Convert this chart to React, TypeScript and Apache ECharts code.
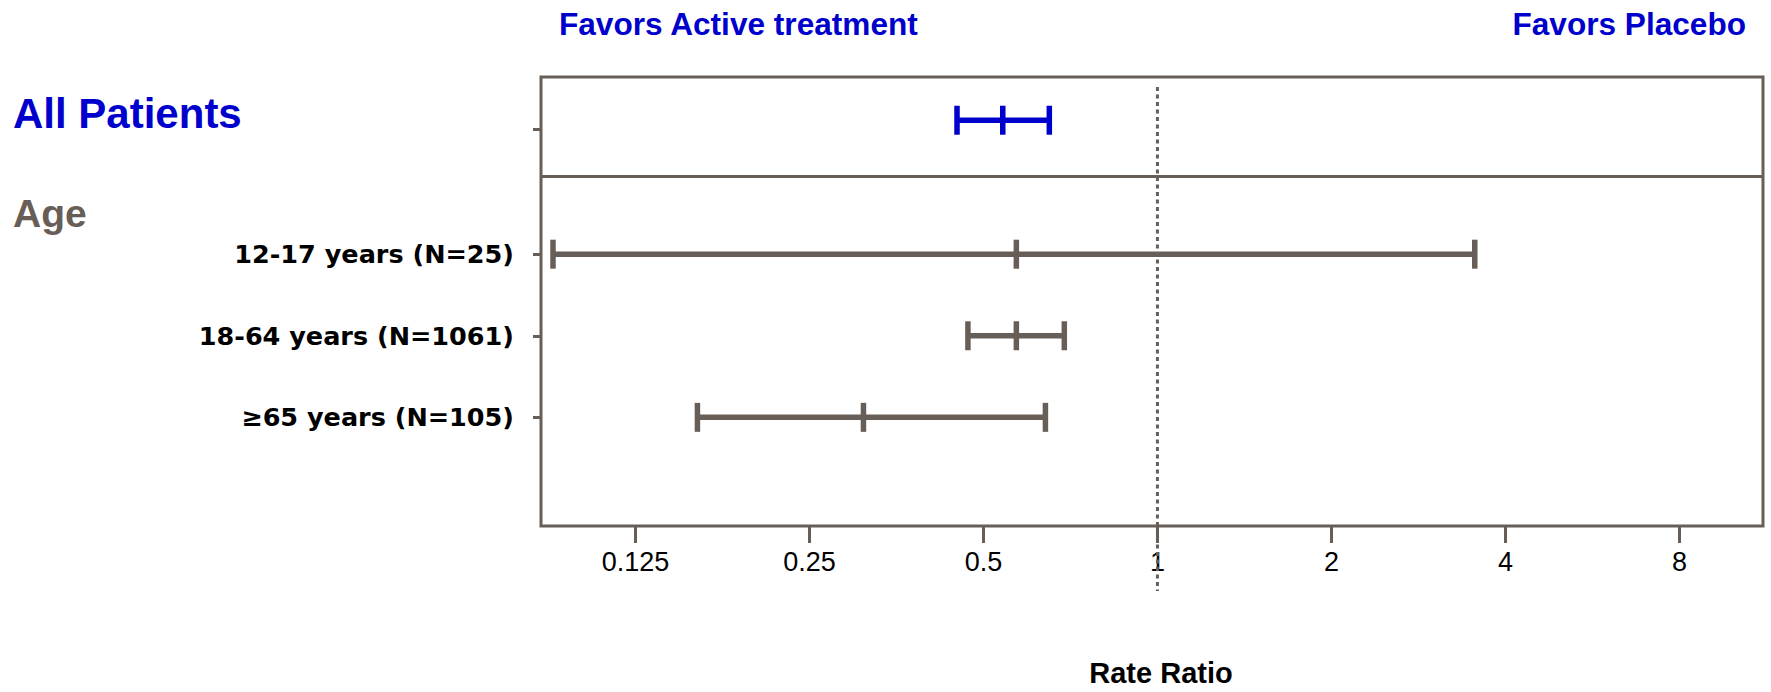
import React, { useEffect, useRef } from 'react';
import * as echarts from 'echarts';

// ---- data ----
const overallLabel = 'All Patients';
const overallLower = [0.45];
const overallEstimate = [0.54];
const overallUpper = [0.65];
const groupTitle = 'Age';
const subgroupLabels = ['12-17 years (N=25)', '18-64 years (N=1061)', '≥65 years (N=105)'];
const subgroupLower = [0.09, 0.47, 0.16];
const subgroupEstimate = [0.57, 0.57, 0.31];
const subgroupUpper = [3.54, 0.69, 0.64];
const tickValues = [0.125, 0.25, 0.5, 1, 2, 4, 8];
const tickLabels = ['0.125', '0.25', '0.5', '1', '2', '4', '8'];
const referenceValue = 1;
const axisTitle = 'Rate Ratio';
const leftNote = 'Favors Active treatment';
const rightNote = 'Favors Placebo';

// ---- layout / style ----
const X_MIN = 0.0858;
const X_MAX = 11.16;
const Y_MIN = -1.172;
const Y_MAX = 4.332;
const OVERALL_Y = -0.642;
const OVERALL_TICK_Y = -0.53;
const DIVIDER_Y = 0.038;
const BLUE = '#0000CC';
const GRAY = '#675E57';
const FONT = "'Liberation Sans', Arial, sans-serif";
const LABEL_FONT = "'DejaVu Sans', sans-serif";

const log2 = (v: number) => Math.log2(v);

function ciRender(color: string) {
  return (params: any, api: any) => {
    const yv = api.value(3);
    const lo = api.coord([api.value(0), yv]);
    const es = api.coord([api.value(1), yv]);
    const hi = api.coord([api.value(2), yv]);
    const y = lo[1];
    const h = 14.5;
    const style = { stroke: color, lineWidth: 5.5 };
    return {
      type: 'group',
      children: [
        { type: 'line', shape: { x1: lo[0], y1: y, x2: hi[0], y2: y }, style },
        { type: 'line', shape: { x1: lo[0], y1: y - h, x2: lo[0], y2: y + h }, style },
        { type: 'line', shape: { x1: es[0], y1: y - h, x2: es[0], y2: y + h }, style },
        { type: 'line', shape: { x1: hi[0], y1: y - h, x2: hi[0], y2: y + h }, style },
      ],
    };
  };
}

export default function App() {
  const ref = useRef<HTMLDivElement>(null);
  useEffect(() => {
    if (!ref.current) return;
    const chart = echarts.init(ref.current, null, { renderer: 'svg' });
    const overallData = overallLower.map((l, i) => [log2(l), log2(overallEstimate[i]), log2(overallUpper[i]), OVERALL_Y]);
    const subData = subgroupLower.map((l, i) => [log2(l), log2(subgroupEstimate[i]), log2(subgroupUpper[i]), i + 1]);
    const tickLogs = tickValues.map(log2);
    const titleStyle = (size: number, color: string) => ({ fontSize: size, fontWeight: 'bold', color, fontFamily: FONT });
    chart.setOption({
      animation: false,
      backgroundColor: '#ffffff',
      title: [
        { text: leftNote, left: 559, top: 8, padding: 0, textStyle: titleStyle(31.6, BLUE) },
        { text: rightNote, right: 25, top: 8, padding: 0, textStyle: titleStyle(31.6, BLUE) },
        { text: overallLabel, left: 13, top: 92, padding: 0, textStyle: titleStyle(42, BLUE) },
        { text: groupTitle, left: 13, top: 194, padding: 0, textStyle: titleStyle(39, GRAY) },
      ],
      grid: {
        left: 541,
        top: 77,
        width: 1222,
        height: 453.5,
        show: true,
        borderColor: GRAY,
        borderWidth: 3,
        backgroundColor: 'transparent',
        containLabel: false,
      },
      xAxis: {
        type: 'value',
        min: log2(X_MIN),
        max: log2(X_MAX),
        axisLine: { show: false, onZero: false },
        splitLine: { show: false },
        axisTick: { show: true, inside: false, length: 17, customValues: tickLogs, lineStyle: { color: GRAY, width: 3 } },
        axisLabel: {
          show: true,
          customValues: tickLogs,
          margin: 22,
          fontSize: 27,
          color: '#000000',
          fontFamily: FONT,
          formatter: (v: number) => {
            const idx = tickLogs.findIndex((t) => Math.abs(t - v) < 1e-6);
            return idx >= 0 ? tickLabels[idx] : '';
          },
        },
        name: axisTitle,
        nameLocation: 'middle',
        nameGap: 132,
        nameTextStyle: { fontSize: 29, fontWeight: 'bold', color: '#000000', fontFamily: FONT, padding: [0, 0, 0, 18] },
      },
      yAxis: {
        type: 'value',
        inverse: true,
        min: Y_MIN,
        max: Y_MAX,
        axisLine: { show: false, onZero: false },
        splitLine: { show: false },
        axisTick: { show: true, inside: false, length: 8, customValues: [OVERALL_TICK_Y, 1, 2, 3], lineStyle: { color: GRAY, width: 3 } },
        axisLabel: {
          show: true,
          customValues: [1, 2, 3],
          margin: 27,
          fontSize: 25.5,
          fontWeight: 'bold',
          color: '#000000',
          fontFamily: LABEL_FONT,
          formatter: (v: number) => subgroupLabels[Math.round(v) - 1] ?? '',
        },
      },
      series: [
        {
          type: 'custom',
          name: 'reference',
          silent: true,
          z: 1,
          data: [[log2(referenceValue), 0]],
          encode: { x: 0, y: 1 },
          renderItem: (params: any, api: any) => {
            const x = api.coord([api.value(0), api.value(1)])[0];
            const cs = params.coordSys;
            return {
              type: 'line',
              shape: { x1: x, y1: cs.y + 10, x2: x, y2: cs.y + cs.height + 65 },
              style: { stroke: GRAY, lineWidth: 3, lineDash: [4, 3.5] },
            };
          },
          markLine: {
            silent: true,
            symbol: 'none',
            label: { show: false },
            lineStyle: { color: GRAY, width: 3, type: 'solid' },
            data: [{ yAxis: DIVIDER_Y }],
          },
        },
        {
          type: 'custom',
          name: overallLabel,
          z: 3,
          data: overallData,
          encode: { x: [0, 1, 2], y: 3 },
          renderItem: ciRender(BLUE),
        },
        {
          type: 'custom',
          name: groupTitle,
          z: 3,
          data: subData,
          encode: { x: [0, 1, 2], y: 3 },
          renderItem: ciRender(GRAY),
        },
      ],
    });
    return () => chart.dispose();
  }, []);
  return <div ref={ref} style={{ position: 'fixed', left: 0, top: 0, width: 1771, height: 692 }} />;
}
